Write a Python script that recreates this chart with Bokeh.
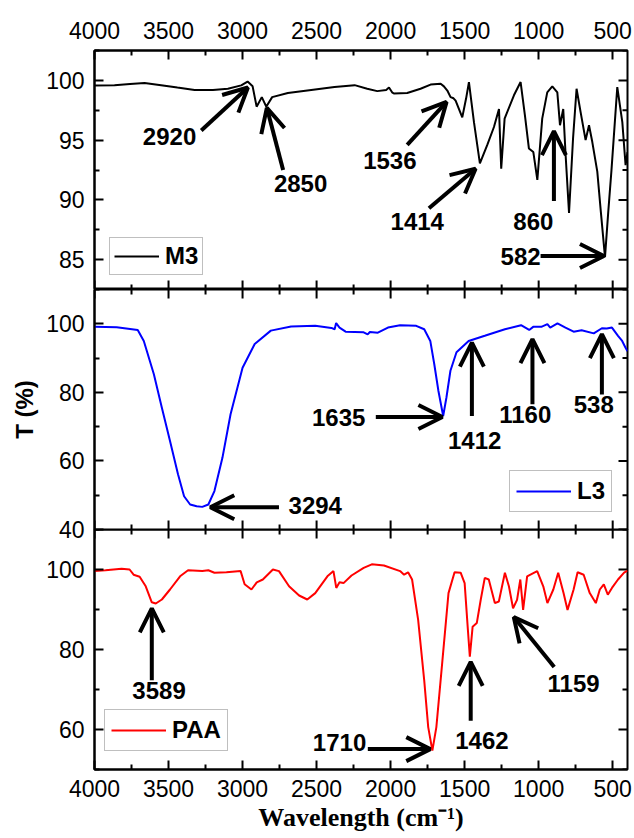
from math import pi
from bokeh.plotting import figure
from bokeh.models import (Range1d, FixedTicker, LinearAxis, Arrow, OpenHead,
                          Legend, LegendItem, ColumnDataSource)
from bokeh.layouts import column
from bokeh.embed import file_html
from bokeh.resources import INLINE
from bokeh.core.properties import value

# ---------------- data ----------------
X_START, X_END = 4000, 400
X_MAJOR = [500, 1000, 1500, 2000, 2500, 3000, 3500, 4000]
X_MINOR = [750, 1250, 1750, 2250, 2750, 3250, 3750]

# M3 spectrum
m3_wn = [4000, 3865, 3760, 3662, 3550, 3440, 3324, 3200, 3099, 3009, 2966, 2932,
         2905, 2870, 2840, 2800, 2694, 2536, 2379, 2243, 2158, 2090, 2030, 2011,
         1990, 1978, 1888, 1798, 1730, 1662, 1640, 1617, 1595, 1575, 1561, 1516,
         1490, 1471, 1437, 1397, 1347, 1302, 1268, 1253, 1230, 1167, 1122, 1093,
         1066, 1036, 1009, 976, 942, 908, 874, 856, 834, 818, 795, 768, 744, 717,
         683, 660, 638, 604, 580, 552, 530, 509, 469, 435, 413, 400]
m3_t = [99.58, 99.6, 99.7, 99.78, 99.6, 99.4, 99.2, 99.2, 99.3, 99.58, 99.9, 99.5,
        97.8, 98.6, 97.8, 98.6, 98.95, 99.2, 99.45, 99.6, 99.3, 99.1, 99.2, 99.4,
        99.0, 98.9, 98.95, 99.3, 99.65, 99.72, 99.5, 99.15, 98.6, 98.5, 98.3, 96.9,
        98.5, 99.86, 96.5, 93.05, 94.6, 96.1, 97.6, 92.6, 96.8, 98.75, 99.86, 97.1,
        94.3, 94.0, 91.67, 96.8, 99.0, 99.5, 99.0, 96.25, 97.6, 93.75, 88.9, 95.1,
        99.3, 97.36, 95.0, 96.25, 94.86, 92.36, 89.0, 85.2, 89.0, 92.36, 99.44, 96.5,
        92.9, 94.0]

# L3 spectrum
l3_wn = [4000, 3850, 3708, 3667, 3599, 3545, 3490, 3436, 3395, 3354, 3310, 3272,
         3231, 3190, 3136, 3081, 3000, 2918, 2809, 2672, 2509, 2400, 2378, 2368,
         2345, 2304, 2182, 2155, 2140, 2086, 2018, 1936, 1827, 1773, 1732, 1705,
         1677, 1645, 1623, 1596, 1555, 1473, 1364, 1228, 1119, 1064, 1037, 982,
         941, 922, 873, 819, 764, 710, 628, 573, 540, 505, 464, 436, 414, 400]
l3_t = [99.1, 99.0, 98.2, 95.0, 85.3, 75.5, 65.8, 56.1, 49.7, 47.3, 46.8, 46.6,
        47.3, 51.2, 60.9, 73.6, 87.2, 94.1, 98.0, 99.2, 99.4, 98.8, 98.4, 100.2,
        98.9, 97.7, 97.5, 96.9, 97.6, 97.4, 98.9, 99.6, 99.4, 98.4, 95.0, 88.2,
        80.4, 73.1, 78.5, 86.3, 91.7, 95.0, 96.5, 98.4, 99.6, 98.2, 99.1, 99.1,
        99.9, 98.9, 100.1, 98.9, 97.7, 98.1, 97.2, 98.7, 98.6, 98.9, 96.5, 95.0,
        93.1, 92.0]

# PAA spectrum
paa_wn = [4000, 3926, 3817, 3763, 3736, 3695, 3654, 3613, 3586, 3545, 3490, 3422,
          3368, 3272, 3231, 3190, 3109, 3013, 2986, 2940, 2904, 2863, 2795, 2754,
          2686, 2618, 2563, 2509, 2427, 2386, 2367, 2345, 2318, 2264, 2182, 2127,
          2045, 1936, 1909, 1882, 1855, 1814, 1773, 1746, 1718, 1691, 1650, 1609,
          1568, 1527, 1500, 1478, 1465, 1446, 1418, 1391, 1364, 1337, 1296, 1269,
          1228, 1201, 1173, 1146, 1124, 1105, 1078, 1010, 969, 941, 901, 868, 832,
          805, 764, 737, 696, 655, 614, 587, 560, 533, 505, 464, 423, 400]
paa_t = [99.6, 99.8, 100.2, 100.0, 98.7, 98.2, 95.8, 91.8, 91.5, 92.5, 95.0, 98.3,
         99.8, 99.6, 99.8, 99.2, 99.3, 99.6, 96.3, 95.0, 96.8, 97.5, 100.0, 99.6,
         95.8, 93.5, 92.5, 94.1, 98.3, 99.6, 95.4, 96.8, 96.6, 98.5, 100.4, 101.3,
         101.0, 99.6, 98.7, 99.3, 97.5, 87.4, 72.3, 60.6, 54.7, 60.6, 77.3, 94.1,
         99.3, 99.2, 96.6, 84.9, 78.2, 85.7, 86.6, 92.5, 97.9, 97.5, 91.6, 92.0,
         99.2, 95.8, 90.3, 92.4, 97.5, 89.9, 98.3, 99.6, 95.8, 91.6, 95.0, 99.2, 94.1,
         89.9, 95.0, 99.3, 98.7, 94.1, 91.6, 95.0, 96.3, 93.7, 95.4, 97.5, 99.2, 99.7]

# annotations: label, text position, arrow tail, arrow head
m3_lab = ["2920", "2850", "1536", "1414", "860", "582"]
m3_tx = [3493, 2608, 2005, 1820, 1036, 1122]
m3_ty = [95.3, 91.4, 93.3, 88.2, 88.2, 85.3]
m3_ax0 = [3279, 2726, 1888, 1741, 897, 987]
m3_ay0 = [95.8, 92.5, 94.6, 89.3, 89.9, 85.3]
m3_ax1 = [2964, 2836, 1622, 1426, 897, 559]
m3_ay1 = [99.4, 97.7, 98.2, 92.6, 95.75, 85.3]

l3_lab = ["3294", "1635", "1412", "1160", "538"]
l3_tx = [2509, 2351, 1432, 1091, 628]
l3_ty = [47.1, 72.6, 66.0, 73.6, 76.5]
l3_ax0 = [2754, 2100, 1451, 1042, 573]
l3_ay0 = [46.5, 72.8, 73.1, 76.5, 79.4]
l3_ax1 = [3218, 1650, 1451, 1042, 573]
l3_ay1 = [46.5, 72.8, 94.5, 95.5, 97.0]

paa_lab = ["3589", "1710", "1462", "1159"]
paa_tx = [3564, 2345, 1383, 764]
paa_ty = [69.8, 56.8, 57.2, 71.5]
paa_ax0 = [3613, 2154, 1459, 895]
paa_ay0 = [72.3, 55.1, 62.2, 75.6]
paa_ax1 = [3613, 1732, 1459, 1168]
paa_ay1 = [90.3, 55.1, 76.9, 88.1]

# ---------------- styling helpers ----------------
FONT = "Liberation Sans"


def style_axis(ax):
    ax.major_tick_in = 9
    ax.major_tick_out = 0
    ax.minor_tick_in = 5
    ax.minor_tick_out = 0
    ax.axis_line_width = 2
    ax.major_tick_line_width = 2
    ax.minor_tick_line_width = 2
    ax.axis_line_color = "black"
    ax.major_tick_line_color = "black"
    ax.minor_tick_line_color = "black"
    ax.major_label_text_font = FONT
    ax.major_label_text_font_size = "23px"
    ax.major_label_text_color = "black"


def edge_ticks(p, ylo, yhi, yticks, yminor, top, bottom):
    # inward tick marks on the unlabeled edges (right, and top/bottom where needed)
    kw = dict(marker="dash", line_color="black", line_width=2)
    p.scatter([X_END] * len(yticks), yticks, size=18, **kw)
    p.scatter([X_END] * len(yminor), yminor, size=10, **kw)
    for yy, need in ((yhi, top), (ylo, bottom)):
        if need:
            p.scatter(X_MAJOR, [yy] * len(X_MAJOR), size=18, angle=pi / 2, **kw)
            p.scatter(X_MINOR, [yy] * len(X_MINOR), size=10, angle=pi / 2, **kw)


def make_panel(ylo, yhi, yticks, yminor, frame_h, top_lab, bottom_lab,
               btop, bbottom, ylabel=None):
    p = figure(frame_width=533, frame_height=frame_h,
               x_range=Range1d(X_START, X_END), y_range=Range1d(ylo, yhi),
               output_backend="svg", toolbar_location=None,
               x_axis_location=None, y_axis_location=None,
               min_border_left=94, min_border_right=7,
               min_border_top=btop, min_border_bottom=bbottom)
    p.grid.visible = False
    p.outline_line_color = "black"
    p.outline_line_width = 2
    p.background_fill_color = "white"
    p.border_fill_color = "white"

    yax = LinearAxis(ticker=FixedTicker(ticks=yticks, minor_ticks=yminor))
    style_axis(yax)
    yax.major_label_standoff = 10
    if ylabel:
        yax.axis_label = ylabel
        yax.axis_label_text_font = FONT
        yax.axis_label_text_font_style = "bold"
        yax.axis_label_text_font_size = "24px"
        yax.axis_label_text_color = "black"
        yax.axis_label_standoff = 5
    p.add_layout(yax, "left")

    if top_lab:
        tax = LinearAxis(ticker=FixedTicker(ticks=X_MAJOR, minor_ticks=X_MINOR))
        style_axis(tax)
        tax.major_label_standoff = 12
        p.add_layout(tax, "above")
    if bottom_lab:
        bax = LinearAxis(ticker=FixedTicker(ticks=X_MAJOR, minor_ticks=X_MINOR))
        style_axis(bax)
        bax.major_label_standoff = 10
        bax.axis_label = "Wavelength (cm\u207b\u00b9)"
        bax.axis_label_text_font = "Liberation Serif"
        bax.axis_label_text_font_style = "bold"
        bax.axis_label_text_font_size = "26px"
        bax.axis_label_text_color = "black"
        bax.axis_label_standoff = 3
        p.add_layout(bax, "below")
    edge_ticks(p, ylo, yhi, yticks, yminor, not top_lab, not bottom_lab)
    return p


def add_spectrum(p, wn, t, color, name, loc, gw, pad):
    r = p.line(wn, t, line_color=color, line_width=2)
    leg = Legend(items=[LegendItem(label=name, renderers=[r])], location=loc,
                 border_line_color="#808080", border_line_width=1,
                 label_text_font=FONT, label_text_font_style="bold",
                 label_text_color="black",
                 label_text_font_size="24px", glyph_width=gw, glyph_height=20,
                 padding=pad, margin=0, label_standoff=6,
                 background_fill_color="white", background_fill_alpha=1)
    p.add_layout(leg)


def add_notes(p, lab, tx, ty, ax0, ay0, ax1, ay1):
    src = ColumnDataSource(dict(xs=ax0, ys=ay0, xe=ax1, ye=ay1))
    p.add_layout(Arrow(x_start="xs", y_start="ys", x_end="xe", y_end="ye",
                       source=src, line_width=4, line_color="black",
                       end=OpenHead(size=24, line_width=4, line_color="black")))
    tsrc = ColumnDataSource(dict(x=tx, y=ty, t=lab))
    p.text(x="x", y="y", text="t", source=tsrc, text_font=value(FONT),
           text_font_style="bold", text_font_size="24px", text_color="black",
           text_align="center", text_baseline="middle")


OVERLAP = 16

p1 = make_panel(82.5, 102.5, [85, 90, 95, 100], [82.5, 87.5, 92.5, 97.5, 102.5],
                239, True, False, 50, 0)
add_spectrum(p1, m3_wn, m3_t, "black", "M3", (15, 14), 45, 4)
add_notes(p1, m3_lab, m3_tx, m3_ty, m3_ax0, m3_ay0, m3_ax1, m3_ay1)

p2 = make_panel(40, 110, [40, 60, 80, 100], [50, 70, 90, 110],
                240, False, False, 0, OVERLAP, ylabel="T (%)")
add_spectrum(p2, l3_wn, l3_t, "#0000ff", "L3", (415, 17), 55, 6)
add_notes(p2, l3_lab, l3_tx, l3_ty, l3_ax0, l3_ay0, l3_ax1, l3_ay1)

p3 = make_panel(50, 110, [60, 80, 100], [50, 70, 90, 110],
                240, False, True, 0, 60)
p3.background_fill_alpha = 0
p3.border_fill_alpha = 0
p3.margin = (-OVERLAP, 0, 0, 0)
add_spectrum(p3, paa_wn, paa_t, "#ff0000", "PAA", (10, 18), 55, 6)
add_notes(p3, paa_lab, paa_tx, paa_ty, paa_ax0, paa_ay0, paa_ax1, paa_ay1)

layout = column(p1, p2, p3, spacing=0)
open("out.html", "w").write(file_html(layout, INLINE))
